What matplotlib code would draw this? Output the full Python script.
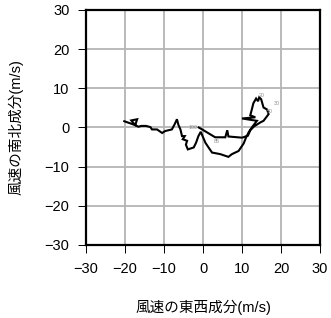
import matplotlib
matplotlib.use("Agg")
import matplotlib.pyplot as plt

plt.rcParams.update({
    "font.family": ["Liberation Sans", "Noto Sans CJK JP", "DejaVu Sans"],
    "font.size": 10,
    "axes.unicode_minus": True,
})

# hodograph: east-west (u) and north-south (v) wind components, m/s
u = [-20.2, -17.4, -16.9, -18.4, -17.4, -16.6, -15.8, -14.6, -13.5, -13.1,
     -11.8, -10.5, -9.7, -8.0, -7.3, -6.7, -6.3, -5.8, -5.4, -4.7,
     -5.2, -4.1, -4.4, -3.9, -2.4, -1.8, -1.2, -0.6, 0.6, 1.4,
     2.3, 4.4, 6.5, 7.4, 9.1, 10.4, 11.0, 11.7, 12.5, 13.8,
     10.0, 13.4, 12.1, 12.5, 12.9, 13.6, 14.1, 14.4, 14.9, 15.5,
     16.4, 16.8, 15.5, 14.7, 13.1, 12.1, 11.5, 10.0, 6.5, 6.2,
     5.7, 3.1, 0.1, -1.1]
v = [1.6, 0.6, 2.1, 1.8, 0.6, 0.2, 0.4, 0.4, 0.1, -0.5,
     -0.5, -1.4, -0.9, -0.5, 0.8, 2.1, 0.6, -0.5, -2.2, -2.2,
     -3.0, -3.4, -4.4, -5.6, -5.1, -3.9, -2.2, -1.1, -3.9, -5.1,
     -6.4, -6.8, -7.5, -6.8, -6.0, -4.1, -2.6, -1.2, 0.0, 1.7,
     2.3, 2.6, 3.1, 4.6, 6.2, 7.4, 6.7, 7.7, 7.2, 5.1,
     4.6, 3.4, 1.7, 1.3, 0.3, -0.7, -2.1, -2.6, -2.3, -0.7,
     -2.5, -2.5, -0.7, 0.0]

# small level labels along the trace
lab_text = ["20", "30", "50", "100", "85"]
lab_u = [15.1, 18.8, 17.1, -2.6, 3.6]
lab_v = [8.2, 6.0, 4.1, 0.0, -3.5]

ticks = [-30, -20, -10, 0, 10, 20, 30]


def main():
    fig = plt.figure(figsize=(3.31, 3.18), dpi=100)
    ax = fig.add_axes([0.26, 0.2296, 0.707, 0.739])

    ax.set_xlim(-30, 30); ax.set_ylim(-30, 30)
    ax.set_xticks(ticks); ax.set_yticks(ticks)
    ax.grid(True, color="#b4b4b4", lw=1.3)
    ax.set_axisbelow(True)
    for s in ax.spines.values():
        s.set_linewidth(1.6); s.set_color("black")
    ax.tick_params(direction="out", length=6, width=0.7, pad=6, labelsize=10.5)

    ax.plot(u, v, color="black", lw=1.5, solid_joinstyle="miter")
    for t, x, y in zip(lab_text, lab_u, lab_v):
        ax.text(x, y, t, fontsize=3.8, color="#8a8a8a", ha="center", va="center")

    ax.set_xlabel("風速の東西成分(m/s)", fontsize=10.5, labelpad=17)
    ax.set_ylabel("風速の南北成分(m/s)", fontsize=10.5, labelpad=15)

    fig.savefig("out.png", dpi=100)
    plt.close(fig)


if __name__ == "__main__":
    main()
